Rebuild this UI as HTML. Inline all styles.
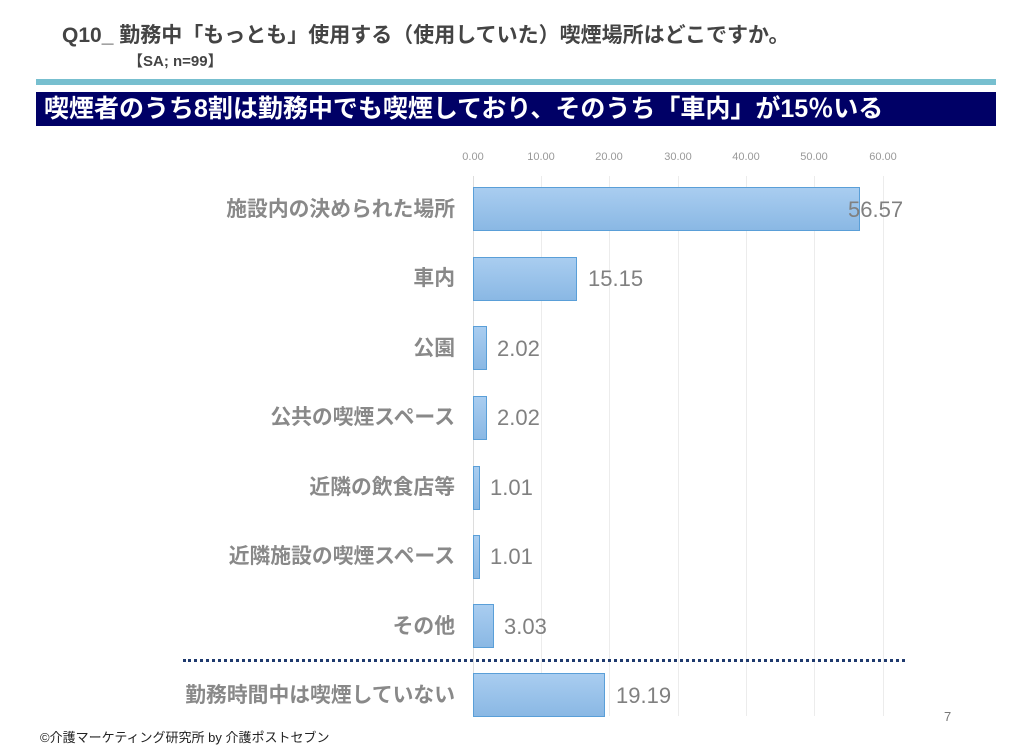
<!DOCTYPE html>
<html><head><meta charset="utf-8"><style>
body{margin:0;width:1024px;height:756px;background:#fff;position:relative;overflow:hidden;font-family:"Liberation Sans","Noto Sans CJK JP",sans-serif}
.a{position:absolute;white-space:nowrap}
.lab{position:absolute;right:569px;font-size:20.8px;font-weight:bold;color:#898989;line-height:24px}
.val{position:absolute;font-size:22px;color:#808080;line-height:24px}
.bar{position:absolute;left:473px;height:42px;background:linear-gradient(#a9cdf0,#8ab8e4);border:1px solid #5a9fd8}
.grid{position:absolute;top:176px;width:1px;height:540px;background:#ececec}
.tick{position:absolute;top:151px;font-size:11px;color:#999;width:60px;text-align:center}
</style></head><body>
<div class="a" style="left:62px;top:19px;font-size:21px;font-weight:bold;color:#444">Q10_ 勤務中「もっとも」使用する（使用していた）喫煙場所はどこですか。</div>
<div class="a" style="left:128px;top:50px;font-size:15px;font-weight:bold;color:#444">【SA; n=99】</div>
<div class="a" style="left:36px;top:79px;width:960px;height:6px;background:#77bfcf"></div>
<div class="a" style="left:36px;top:92px;width:960px;height:34px;background:#000066"></div>
<div class="a" style="left:44px;top:94px;font-size:25px;font-weight:bold;color:#fff;line-height:30px">喫煙者のうち8割は勤務中でも喫煙しており、そのうち「車内」が15％いる</div>

<div class="grid" style="left:473px;background:#ddd"></div>
<div class="grid" style="left:541px"></div><div class="grid" style="left:609px"></div><div class="grid" style="left:678px"></div><div class="grid" style="left:746px"></div><div class="grid" style="left:814px"></div><div class="grid" style="left:883px"></div>
<div class="tick" style="left:443px">0.00</div><div class="tick" style="left:511px">10.00</div><div class="tick" style="left:579px">20.00</div><div class="tick" style="left:648px">30.00</div><div class="tick" style="left:716px">40.00</div><div class="tick" style="left:784px">50.00</div><div class="tick" style="left:853px">60.00</div>

<div class="lab" style="top:198px">施設内の決められた場所</div>
<div class="bar" style="top:187px;width:385px"></div><div class="val" style="left:848px;top:198px">56.57</div>
<div class="lab" style="top:267px">車内</div>
<div class="bar" style="top:257px;width:102px"></div><div class="val" style="left:588px;top:267px">15.15</div>
<div class="lab" style="top:337px">公園</div>
<div class="bar" style="top:326px;width:12px"></div><div class="val" style="left:497px;top:337px">2.02</div>
<div class="lab" style="top:406px">公共の喫煙スペース</div>
<div class="bar" style="top:396px;width:12px"></div><div class="val" style="left:497px;top:406px">2.02</div>
<div class="lab" style="top:476px">近隣の飲食店等</div>
<div class="bar" style="top:466px;width:5px"></div><div class="val" style="left:490px;top:476px">1.01</div>
<div class="lab" style="top:545px">近隣施設の喫煙スペース</div>
<div class="bar" style="top:535px;width:5px"></div><div class="val" style="left:490px;top:545px">1.01</div>
<div class="lab" style="top:615px">その他</div>
<div class="bar" style="top:604px;width:19px"></div><div class="val" style="left:504px;top:615px">3.03</div>
<div class="a" style="left:183px;top:659px;width:722px;border-top:3px dotted #1f3a6e"></div>
<div class="lab" style="top:684px">勤務時間中は喫煙していない</div>
<div class="bar" style="top:673px;width:130px"></div><div class="val" style="left:616px;top:684px">19.19</div>

<div class="a" style="left:944px;top:709px;font-size:13px;color:#777">7</div>
<div class="a" style="left:40px;top:727px;font-size:13px;color:#222">©介護マーケティング研究所 by 介護ポストセブン</div>
</body></html>
